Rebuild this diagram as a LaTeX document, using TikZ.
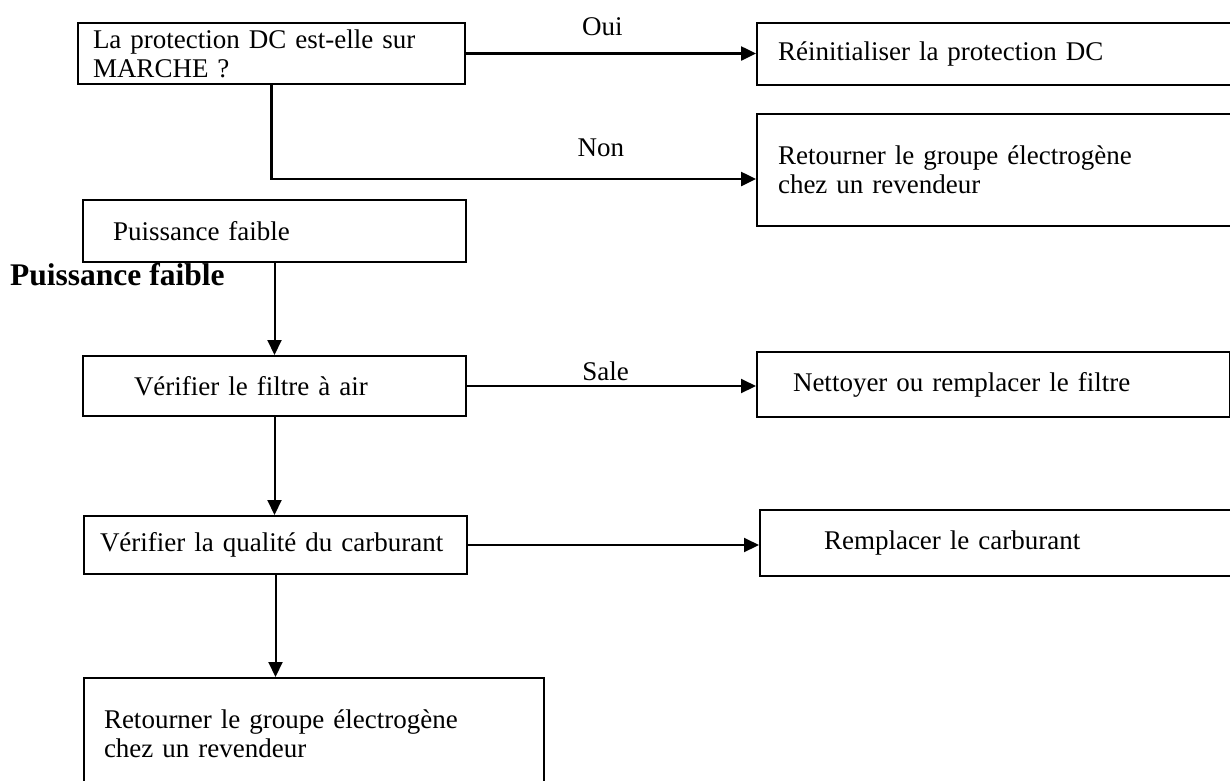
\documentclass[tikz,border=0pt]{standalone}
\usepackage{fontspec}
\setmainfont{Liberation Serif}
\usetikzlibrary{arrows.meta, positioning}

\begin{document}
\begin{tikzpicture}[x=1pt, y=-1pt,
  box/.style={draw, line width=2pt, anchor=north west, align=left, font=\fontsize{27}{29}\selectfont},
  arrow/.style={line width=2pt, -{Triangle[length=15pt, width=14pt]}},
  lbl/.style={font=\fontsize{27}{29}\selectfont}]

\useasboundingbox (0,0) rectangle (1230,780);
\clip (0,0) rectangle (1230,780);

\node[box, minimum height=61pt, text width=357pt, inner xsep=15pt] (question) at (77,22) {La protection DC est-elle sur\\MARCHE ?};
\node[box, minimum height=62pt, text width=434pt, inner xsep=21pt] (reset) at (756,22) {Réinitialiser la protection DC};
\node[box, minimum height=112pt, text width=434pt, inner xsep=21pt] (dealer) at (756,113) {Retourner le groupe électrogène\\chez un revendeur};

\node[box, minimum height=62pt, text width=323pt, inner xsep=30pt] (lowpower) at (82,199) {Puissance faible};
\node[anchor=base west, inner sep=0pt, font=\bfseries\fontsize{31.5}{34}\selectfont] (title) at (10,285) {Puissance faible};

\node[box, minimum height=60pt, text width=281pt, inner xsep=51pt] (airfilter) at (82,355) {Vérifier le filtre à air};
\node[box, minimum height=65pt, text width=401pt, inner xsep=36pt] (cleanfilter) at (756,351) {Nettoyer ou remplacer le filtre};

\node[box, minimum height=58pt, text width=351pt, inner xsep=16pt] (fuel) at (83,515) {Vérifier la qualité du carburant};
\node[box, minimum height=66pt, text width=345pt, inner xsep=64pt] (newfuel) at (759,509) {Remplacer le carburant};

\node[box, minimum height=112pt, text width=420pt, inner xsep=20pt] (dealerb) at (83,677) {Retourner le groupe électrogène\\chez un revendeur};

\draw[arrow, line width=2.5pt] (question.east) -- node[lbl, pos=0.47, above=13pt] {Oui} (question.east -| reset.west);
\draw[arrow, line width=2.5pt] (question.south) |- node[lbl, pos=0.84, above=18pt] {Non} ([yshift=-9pt]dealer.west);
\draw[arrow] (lowpower.south) -- (airfilter.north);
\draw[arrow] (airfilter.east) -- node[lbl, pos=0.48, above=1pt] {Sale} (airfilter.east -| cleanfilter.west);
\draw[arrow] (airfilter.south) -- (airfilter.south |- fuel.north);
\draw[arrow] (fuel.east) -- (fuel.east -| newfuel.west);
\draw[arrow] (fuel.south) -- (fuel.south |- dealerb.north);

\end{tikzpicture}
\end{document}
